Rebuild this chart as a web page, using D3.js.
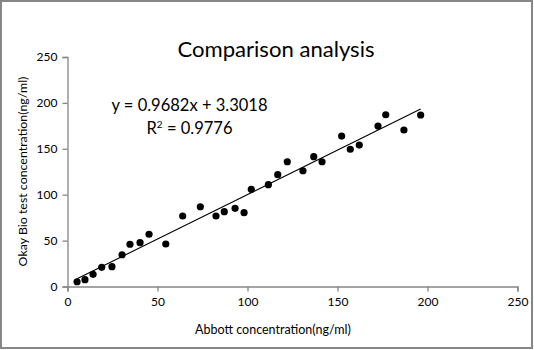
<!DOCTYPE html>
<html>
<head>
<meta charset="utf-8">
<script src="https://cdn.jsdelivr.net/npm/d3@7"></script>
<style>
  html, body { margin: 0; padding: 0; background: #fff; }
  svg { display: block; font-family: Lato, "Open Sans", sans-serif; }
</style>
</head>
<body>
<svg id="chart" width="534" height="350"></svg>
<script>
// Abbott vs Okay Bio measurements (ng/ml)
const abbott = [5.3, 9.7, 14.2, 19.0, 24.7, 30.3, 34.7, 40.3, 45.3, 54.6,
                64.0, 73.8, 82.5, 87.1, 93.1, 98.1, 102.1, 111.6, 116.8, 122.1,
                130.8, 136.8, 141.4, 152.3, 157.1, 162.1, 172.5, 176.8, 186.9, 196.2];
const okayBio = [5.2, 7.4, 13.3, 20.9, 21.6, 34.6, 46.0, 47.7, 56.9, 46.3,
                 76.8, 86.9, 76.8, 81.5, 85.2, 80.4, 105.9, 110.9, 121.8, 135.9,
                 126.1, 141.4, 135.9, 163.9, 149.5, 154.1, 174.8, 187.1, 170.5, 186.8];
const xTicks = [0, 50, 100, 150, 200, 250];
const yTicks = [0, 50, 100, 150, 200, 250];
// Linear fit reported on the chart
const slope = 0.9682, intercept = 3.3018, rSquared = 0.9776;

const svg = d3.select("#chart");
const axisColor = "#868686";

// Outer frame
svg.append("rect")
  .attr("x", 1).attr("y", 1).attr("width", 531).attr("height", 347)
  .attr("fill", "#fff").attr("stroke", axisColor).attr("stroke-width", 2);

const x = d3.scaleLinear().domain([0, 250]).range([67.5, 517.5]);
const y = d3.scaleLinear().domain([0, 250]).range([286.5, 57]);

// Shrinks or grows a text's font so it spans a given width
function fitWidth(sel, target) {
  const n = sel.node();
  const fs = parseFloat(sel.attr("font-size"));
  const w = n.getComputedTextLength();
  sel.attr("font-size", (fs * target / w).toFixed(2));
}

// Axes
const xAxis = svg.append("g")
  .attr("transform", `translate(0,${y(0)})`)
  .call(d3.axisBottom(x).tickValues(xTicks).tickSize(5).tickPadding(6));
const yAxis = svg.append("g")
  .attr("transform", `translate(${x(0)},0)`)
  .call(d3.axisLeft(y).tickValues(yTicks).tickSize(5).tickPadding(5));

[xAxis, yAxis].forEach(g => {
  g.select(".domain").attr("stroke", axisColor).attr("stroke-width", 1.3);
  g.selectAll(".tick line").attr("stroke", axisColor).attr("stroke-width", 1.3);
  g.selectAll(".tick text")
    .attr("fill", "#000")
    .attr("font-size", 12)
    .attr("font-family", "Lato, 'Open Sans', sans-serif");
});

// Trend line over the measured range
const xMin = d3.min(abbott), xMax = d3.max(abbott);
svg.append("line")
  .attr("x1", x(xMin)).attr("y1", y(slope * xMin + intercept))
  .attr("x2", x(xMax)).attr("y2", y(slope * xMax + intercept))
  .attr("stroke", "#000").attr("stroke-width", 1.1);

// Data points
svg.append("g").selectAll("circle")
  .data(d3.zip(abbott, okayBio))
  .join("circle")
  .attr("cx", d => x(d[0]))
  .attr("cy", d => y(d[1]))
  .attr("r", 3.6)
  .attr("fill", "#000");

// Title
const title = svg.append("text")
  .attr("x", 276).attr("y", 57)
  .attr("text-anchor", "middle")
  .attr("font-size", 21)
  .attr("fill", "#000")
  .text("Comparison analysis");
fitWidth(title, 197);

// Regression annotation
const eq = svg.append("text")
  .attr("x", 189.5).attr("y", 111)
  .attr("text-anchor", "middle")
  .attr("font-size", 17)
  .attr("fill", "#000")
  .text(`y = ${slope}x + ${intercept}`);
fitWidth(eq, 156);

const r2 = svg.append("text")
  .attr("x", 189.5).attr("y", 134)
  .attr("text-anchor", "middle")
  .attr("font-size", eq.attr("font-size"))
  .attr("fill", "#000");
r2.append("tspan").text("R");
r2.append("tspan").attr("dy", -6).attr("font-size", 10).text("2");
r2.append("tspan").attr("dy", 6).text(` = ${rSquared}`);

// Axis titles
const xTitle = svg.append("text")
  .attr("x", 273).attr("y", 334)
  .attr("text-anchor", "middle")
  .attr("font-size", 12)
  .attr("fill", "#000")
  .text("Abbott concentration(ng/ml)");
fitWidth(xTitle, 156);

const yTitle = svg.append("text")
  .attr("transform", "translate(27,171.5) rotate(-90)")
  .attr("text-anchor", "middle")
  .attr("font-size", 12)
  .attr("fill", "#000")
  .text("Okay Bio test concentration(ng/ml)");
fitWidth(yTitle, 190);
</script>
</body>
</html>
